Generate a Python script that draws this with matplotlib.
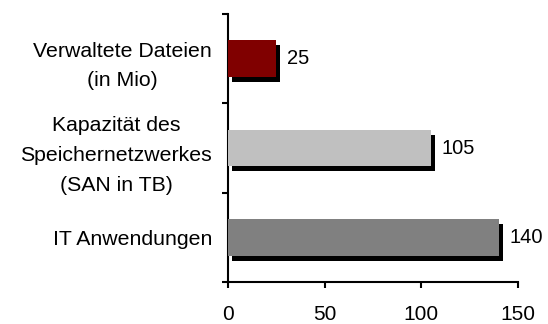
import matplotlib
matplotlib.use("Agg")
import matplotlib.pyplot as plt
import matplotlib.transforms as mtransforms

categories = ["Verwaltete Dateien\n(in Mio)",
              "Kapazität des\nSpeichernetzwerkes\n(SAN in TB)",
              "IT Anwendungen"]
values = [25, 105, 140]
colors = ["#800000", "#C0C0C0", "#808080"]
xticks = [0, 50, 100, 150]

plt.rcParams['font.family'] = ['Liberation Sans', 'DejaVu Sans']

fig = plt.figure(figsize=(5.48, 3.24), dpi=100)
ax = fig.add_axes([228/548, 1-282/324, (518-228)/548, (282-14)/324])

ypos = list(range(len(values)))
h = 0.41
shadow = ax.transData + mtransforms.ScaledTranslation(4/100, -5/100, fig.dpi_scale_trans)
ax.barh(ypos, values, height=h, color="black", transform=shadow, zorder=2)
ax.barh(ypos, values, height=h, color=colors, zorder=3)

for y, v in zip(ypos, values):
    ax.annotate(str(v), xy=(v, y), xytext=(7.5, 0), textcoords="offset points",
                ha="left", va="center", fontsize=14.5)

ax.set_xlim(0, 150)
ax.set_ylim(len(values)-0.5, -0.5)
ax.set_xticks(xticks)
ax.set_xticklabels([str(t) for t in xticks], fontsize=15)
ax.set_yticks([i - 0.5 for i in range(len(values)+1)])
ax.set_yticklabels([])
ax.set_yticks(ypos, minor=True)
ax.set_yticklabels(categories, minor=True, fontsize=15.3, linespacing=1.72,
                   ha="right", multialignment="center")
ax.tick_params(axis="y", which="minor", length=0, pad=11.5)
ax.tick_params(axis="y", which="major", length=4, width=1.5)
ax.tick_params(axis="x", length=4, width=1.5, pad=12.5)

for s in ["top", "right"]:
    ax.spines[s].set_visible(False)
for s in ["left", "bottom"]:
    ax.spines[s].set_linewidth(1.5)

fig.savefig("out.png", dpi=100)
